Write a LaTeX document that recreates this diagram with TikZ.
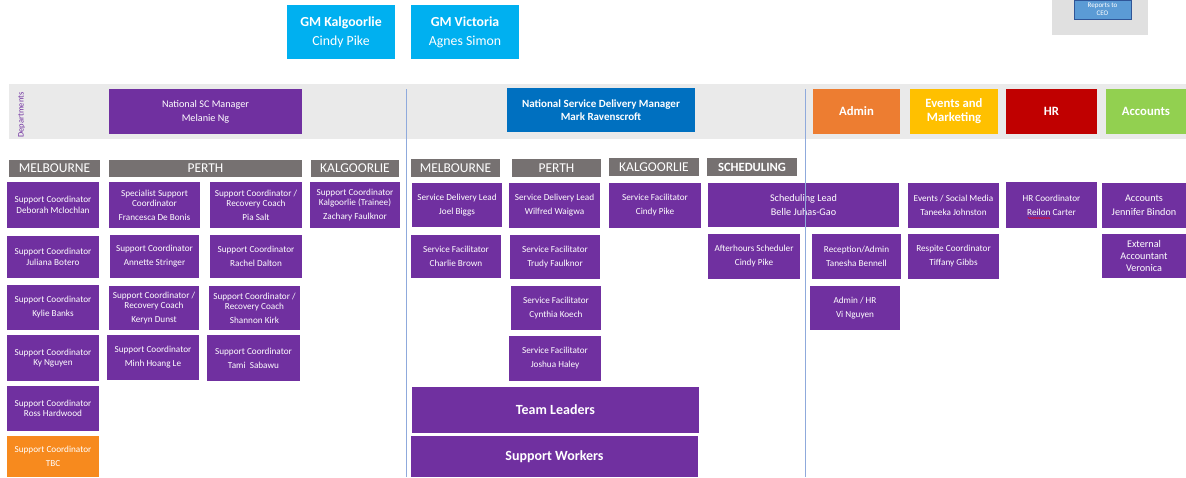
\documentclass[tikz,border=0pt]{standalone}
\usepackage{fontspec}
\setmainfont{Carlito}
\usetikzlibrary{decorations.pathmorphing}
\definecolor{pur}{HTML}{7030A0}
\definecolor{gmcyan}{HTML}{00B0F0}
\definecolor{nsdblue}{HTML}{0070C0}
\definecolor{admorange}{HTML}{ED7D31}
\definecolor{evyellow}{HTML}{FFC000}
\definecolor{hrred}{HTML}{C00000}
\definecolor{accgreen}{HTML}{92D050}
\definecolor{tbcorange}{HTML}{F78A1E}
\definecolor{hdrgray}{HTML}{767171}
\definecolor{bandgray}{HTML}{EAEAEA}
\definecolor{ceogray}{HTML}{E0E0E0}
\definecolor{ceoblue}{HTML}{5B9BD5}
\definecolor{ceoborder}{HTML}{2F5597}
\definecolor{vlinecol}{HTML}{8FAADC}
\newcommand{\rbox}[7]{\node[#6, minimum width={(#4)-(#2)}, minimum height={(#5)-(#3)}] (#1) at ({((#2)+(#4))/2},{-((#3)+(#5))/2}) {#7};}
\tikzset{
  base/.style={inner sep=0pt, outer sep=0pt, align=center, text=white},
  pbox/.style={base, fill=pur, font=\fontsize{9.2}{10.5}\selectfont},
  bigp/.style={base, fill=pur, font=\fontsize{10.2}{12.5}\selectfont},
  hdr/.style={base, fill=hdrgray, font=\fontsize{13.5}{14}\selectfont},
  gmbox/.style={base, fill=gmcyan, font=\fontsize{13.8}{19}\selectfont},
  dept/.style={base, font=\fontsize{12.7}{14}\bfseries\selectfont},
  vline/.style={draw=vlinecol, line width=0.9pt},
  squig/.style={draw=red, line width=0.4pt, decorate, decoration={snake, amplitude=0.5pt, segment length=2pt}},
}
\begin{document}
\begin{tikzpicture}[x=1pt,y=1pt]
\useasboundingbox (0,0) rectangle (1186,-477);
% top
\rbox{gmk}{287}{5}{395}{59}{gmbox}{\textbf{GM Kalgoorlie}\\Cindy Pike}
\rbox{gmv}{411}{5}{519}{59}{gmbox}{\textbf{GM Victoria}\\Agnes Simon}
\rbox{ceo}{1052}{0}{1148}{35}{base, fill=ceogray}{}
\rbox{ceoin}{1074}{0}{1131}{19}{base, fill=ceoblue, draw=ceoborder, line width=0.6pt, font=\fontsize{7}{8.5}\selectfont}{Reports to\\CEO}
% department band
\rbox{band}{9}{84}{1186}{139}{base, fill=bandgray}{}
\node[rotate=90, text=pur, font=\fontsize{8.5}{9}\selectfont, inner sep=0pt] (deptlbl) at (21.5,-115) {Departments};
\rbox{nscm}{109}{89}{302}{134}{base, fill=pur, font=\fontsize{10.2}{14}\selectfont}{National SC Manager\\Melanie Ng}
\rbox{nsdm}{507}{88}{695}{132}{base, fill=nsdblue, font=\fontsize{11}{13}\bfseries\selectfont}{National Service Delivery Manager\\Mark Ravenscroft}
\rbox{admin}{813}{89}{900}{134}{dept, fill=admorange}{Admin}
\rbox{events}{910}{89}{998}{134}{dept, fill=evyellow}{Events and\\Marketing}
\rbox{hr}{1006}{89}{1097}{134}{dept, fill=hrred}{HR}
\rbox{acc}{1106}{89}{1186}{134}{dept, fill=accgreen}{Accounts}
% location headers
\rbox{h1}{9}{160}{100}{177}{hdr}{MELBOURNE}
\rbox{h2}{109}{160}{302}{177}{hdr}{PERTH}
\rbox{h3}{311}{160}{399}{177}{hdr}{KALGOORLIE}
\rbox{h4}{411}{159}{500}{177}{hdr}{MELBOURNE}
\rbox{h5}{512}{159}{601}{177}{hdr}{PERTH}
\rbox{h6}{609}{158}{699}{176}{hdr}{KALGOORLIE}
\rbox{h7}{707}{158}{797}{176}{hdr, font=\fontsize{12.6}{14}\bfseries\selectfont}{SCHEDULING}
% Melbourne SC
\rbox{m1}{7}{182}{99}{228}{pbox}{Support Coordinator\\Deborah Mclochlan}
\rbox{m2}{7}{236}{99}{278}{pbox}{Support Coordinator\\Juliana Botero}
\rbox{m3}{7}{285}{99}{330}{pbox}{Support Coordinator\\[3.5pt]Kylie Banks}
\rbox{m4}{7}{335}{99}{381}{pbox}{Support Coordinator\\Ky Nguyen}
\rbox{m5}{7}{386}{99}{431}{pbox}{Support Coordinator\\Ross Hardwood}
\rbox{m6}{7}{436}{99}{477}{pbox, fill=tbcorange}{Support Coordinator\\[3.5pt]TBC}
% Perth SC
\rbox{pa1}{109}{182}{200}{228}{pbox}{Specialist Support\\Coordinator\\[3pt]Francesca De Bonis}
\rbox{pa2}{110}{235}{199}{278}{pbox}{Support Coordinator\\[3.5pt]Annette Stringer}
\rbox{pa3}{109}{286}{199}{330}{pbox}{Support Coordinator /\\Recovery Coach\\[3pt]Keryn Dunst}
\rbox{pa4}{107}{335}{199}{380}{pbox}{Support Coordinator\\[3.5pt]Minh Hoang Le}
\rbox{pb1}{210}{182}{302}{228}{pbox}{Support Coordinator /\\Recovery Coach\\[3pt]Pia Salt}
\rbox{pb2}{210}{235}{302}{278}{pbox}{Support Coordinator\\[3.5pt]Rachel Dalton}
\rbox{pb3}{209}{286}{300}{330}{pbox}{Support Coordinator /\\Recovery Coach\\[3pt]Shannon Kirk}
\rbox{pb4}{207}{335}{300}{381}{pbox}{Support Coordinator\\[3.5pt]Tami\ \ Sabawu}
% Kalgoorlie SC
\rbox{k1}{310}{182}{400}{228}{pbox}{Support Coordinator\\Kalgoorlie (Trainee)\\[3pt]Zachary Faulknor}
% Service delivery
\rbox{sm1}{412}{183}{502}{227}{pbox}{Service Delivery Lead\\[3.5pt]Joel Biggs}
\rbox{sm2}{411}{235}{501}{278}{pbox}{Service Facilitator\\[3.5pt]Charlie Brown}
\rbox{sp1}{509}{183}{600}{228}{pbox}{Service Delivery Lead\\[3.5pt]Wilfred Waigwa}
\rbox{sp2}{510}{235}{600}{279}{pbox}{Service Facilitator\\[3.5pt]Trudy Faulknor}
\rbox{sp3}{511}{286}{601}{330}{pbox}{Service Facilitator\\[3.5pt]Cynthia Koech}
\rbox{sp4}{509}{336}{601}{381}{pbox}{Service Facilitator\\[3.5pt]Joshua Haley}
\rbox{sk1}{609}{183}{701}{228}{pbox}{Service Facilitator\\[3.5pt]Cindy Pike}
\rbox{tl}{412}{387}{699}{433}{base, fill=pur, font=\fontsize{14}{16}\bfseries\selectfont}{Team Leaders}
\rbox{sw}{411}{436}{698}{477}{base, fill=pur, font=\fontsize{14}{16}\bfseries\selectfont}{Support Workers}
% Scheduling
\rbox{sl}{708}{183}{899}{227}{bigp}{Scheduling Lead\\[2pt]Belle Juhas-Gao}
\rbox{ah}{708}{234}{800}{279}{pbox}{Afterhours Scheduler\\[3.5pt]Cindy Pike}
% Admin
\rbox{ra}{812}{234}{901}{279}{pbox}{Reception/Admin\\[3.5pt]Tanesha Bennell}
\rbox{ahr}{810}{286}{900}{330}{pbox}{Admin / HR\\[3.5pt]Vi Nguyen}
% Events
\rbox{ev1}{908}{183}{999}{228}{pbox}{Events / Social Media\\[3.5pt]Taneeka Johnston}
\rbox{ev2}{908}{234}{999}{279}{pbox}{Respite Coordinator\\[3.5pt]Tiffany Gibbs}
% HR
\rbox{hr1}{1006}{182}{1097}{228}{pbox}{HR Coordinator\\[3.5pt]Reilon Carter}
\coordinate (sqa) at (1028,-218);
\coordinate (sqb) at (1051,-218);
\draw[squig] (sqa) -- (sqb);
% Accounts
\rbox{ac1}{1102}{183}{1186}{228}{bigp}{Accounts\\[1pt]Jennifer Bindon}
\rbox{ac2}{1102}{234}{1186}{278}{base, fill=pur, font=\fontsize{10.2}{12}\selectfont}{External\\Accountant\\Veronica}
% vertical divider lines
\coordinate (v1t) at (406,-89);
\coordinate (v1b) at (406,-477);
\coordinate (v2t) at (805.5,-89);
\coordinate (v2b) at (805.5,-477);
\draw[vline] (v1t) -- (v1b);
\draw[vline] (v2t) -- (v2b);
\end{tikzpicture}
\end{document}
